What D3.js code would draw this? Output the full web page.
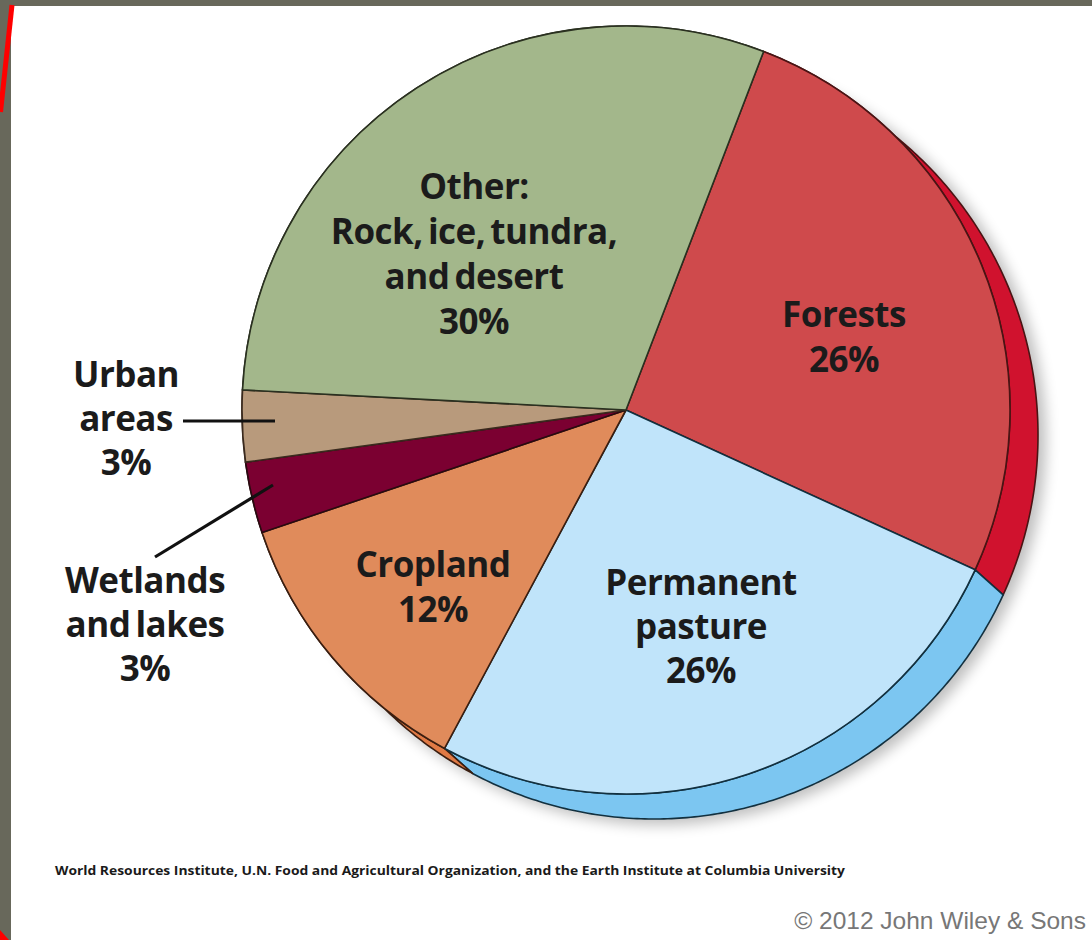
<!DOCTYPE html>
<html><head><meta charset="utf-8">
<script src="https://cdn.jsdelivr.net/npm/d3@7"></script>
<style>html,body{margin:0;padding:0;background:#68685b;}svg{display:block;}</style>
</head><body>
<svg id="chart" width="1092" height="940"></svg>
<script>
// ---- data ----
const categories = ["Forests", "Permanent pasture", "Cropland", "Wetlands and lakes", "Urban areas", "Other: Rock, ice, tundra, and desert"];
const values = [26, 26, 12, 3, 3, 30];
const labelLines = [
  ["Forests", "26%"],
  ["Permanent", "pasture", "26%"],
  ["Cropland", "12%"],
  ["Wetlands", "and lakes", "3%"],
  ["Urban", "areas", "3%"],
  ["Other:", "Rock, ice, tundra,", "and desert", "30%"]
];
const topColors = ["#cf4a4c", "#c0e4fa", "#e08b5b", "#7b0031", "#b89a7c", "#a3b78b"];
const sideColors = ["#d0122e", "#7cc6f1", "#e07a45", "#6a0028", "#a08468", "#8fa878"];
const edgeColors = ["#4a1414", "#12303f", "#3a1e10", "#2a0a10", "#3a2a1e", "#2a3020"];
const sourceText = "World Resources Institute, U.N. Food and Agricultural Organization, and the Earth Institute at Columbia University";
const copyrightText = "\u00A9 2012 John Wiley & Sons";

// ---- layout ----
const svg = d3.select("#chart");
const W = 1092, H = 940;
const cx = 626, cy = 410, R = 384;
const dx = 28, dy = 25;

// frame
svg.append("rect").attr("x", 0).attr("y", 0).attr("width", W).attr("height", H).attr("fill", "#68685b");
svg.append("rect").attr("x", 11).attr("y", 6).attr("width", W - 11).attr("height", H - 6).attr("fill", "#ffffff");
svg.append("line").attr("x1", 12).attr("y1", 5).attr("x2", 0.5).attr("y2", 112)
  .attr("stroke", "#ff0000").attr("stroke-width", 5);
svg.append("path").attr("d", "M0,930 L9,940 L0,940 Z").attr("fill", "#ff0000");

const defs = svg.append("defs");
defs.append("filter").attr("id", "blur").attr("x", "-20%").attr("y", "-20%").attr("width", "140%").attr("height", "140%")
  .append("feGaussianBlur").attr("stdDeviation", 7);

const pie = d3.pie().sort(null).value(d => d)
  .startAngle(21 * Math.PI / 180).endAngle(21 * Math.PI / 180 + 2 * Math.PI);
const arcs = pie(values);

const g = svg.append("g");

// shadow
g.append("circle").attr("cx", cx + dx + 6).attr("cy", cy + dy + 4).attr("r", R + 2)
  .attr("fill", "#000").attr("opacity", 0.25).attr("filter", "url(#blur)");

// side bands (extrusion)
function P(a, ox, oy) { return [cx + ox + R * Math.sin(a), cy + oy - R * Math.cos(a)]; }
function bandPath(a0, a1) {
  const n = Math.max(8, Math.ceil((a1 - a0) / 0.01));
  const pts = [];
  for (let i = 0; i <= n; i++) pts.push(P(a0 + (a1 - a0) * i / n, 0, 0));
  for (let i = n; i >= 0; i--) pts.push(P(a0 + (a1 - a0) * i / n, dx, dy));
  return "M" + pts.map(p => p[0].toFixed(2) + "," + p[1].toFixed(2)).join("L") + "Z";
}
arcs.forEach((a, i) => {
  g.append("path").attr("d", bandPath(a.startAngle, a.endAngle))
    .attr("fill", sideColors[i]).attr("stroke", edgeColors[i]).attr("stroke-width", 1.6)
    .attr("stroke-linejoin", "round");
});

// top faces
const arcGen = d3.arc().innerRadius(0).outerRadius(R);
g.append("g").attr("transform", `translate(${cx},${cy})`)
  .selectAll("path").data(arcs).join("path")
  .attr("d", arcGen)
  .attr("fill", (d, i) => topColors[i])
  .attr("stroke", (d, i) => edgeColors[i])
  .attr("stroke-width", 1.6)
  .attr("stroke-linejoin", "round");

// labels
const font = "'Open Sans', 'DejaVu Sans', sans-serif";
const labelPos = [
  { x: 844, y: 327, dy: 45 },
  { x: 701, y: 595, dy: 44 },
  { x: 433, y: 577, dy: 45 },
  { x: 145, y: 593, dy: 44 },
  { x: 126, y: 387, dy: 44 },
  { x: 474, y: 199, dy: 45 }
];
labelLines.forEach((lines, i) => {
  const t = svg.append("text")
    .attr("text-anchor", "middle")
    .attr("font-family", font).attr("font-weight", 700).attr("font-size", 35)
    .attr("letter-spacing", -0.5)
    .attr("word-spacing", -3.5)
    .attr("fill", "#1b1b1b");
  lines.forEach((ln, j) => {
    t.append("tspan").attr("x", labelPos[i].x).attr("y", labelPos[i].y + j * labelPos[i].dy).text(ln);
  });
});

// leader lines
svg.append("line").attr("x1", 183).attr("y1", 421).attr("x2", 275).attr("y2", 421)
  .attr("stroke", "#111").attr("stroke-width", 3.2);
svg.append("line").attr("x1", 155).attr("y1", 557).attr("x2", 273).attr("y2", 485)
  .attr("stroke", "#111").attr("stroke-width", 3.2);

// source
svg.append("text").attr("x", 55).attr("y", 875)
  .attr("font-family", font).attr("font-weight", 700).attr("font-size", 12.5)
  .attr("fill", "#1a1a1a").attr("textLength", 790).attr("lengthAdjust", "spacingAndGlyphs")
  .text(sourceText);

// copyright
svg.append("text").attr("x", 1086).attr("y", 929).attr("text-anchor", "end")
  .attr("font-family", "'Liberation Sans', Arial, sans-serif").attr("font-size", 24.5)
  .attr("fill", "#777777")
  .text(copyrightText);
</script>
</body></html>
